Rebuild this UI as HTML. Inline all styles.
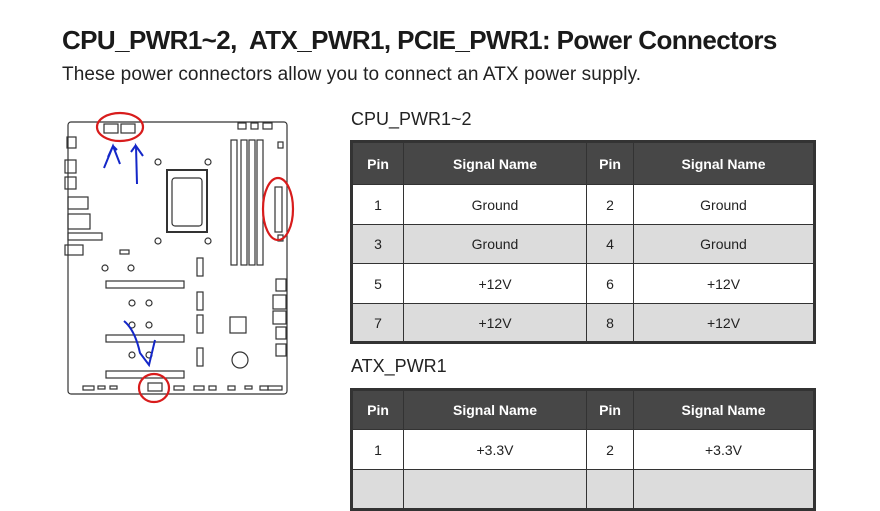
<!DOCTYPE html>
<html><head><meta charset="utf-8"><style>
body{margin:0;width:880px;height:481px;overflow:hidden;background:#fff;font-family:"Liberation Sans",sans-serif;position:relative;color:#222}
h1{position:absolute;left:62px;top:25px;margin:0;font-size:26px;font-weight:bold;letter-spacing:-0.6px;color:#1a1a1a;white-space:nowrap}
.sub{position:absolute;left:62px;top:64px;font-size:19px;color:#222;letter-spacing:0.1px}
.tt{position:absolute;left:351px;font-size:18px;color:#222}
table{position:absolute;left:350px;border-collapse:collapse;border:3px solid #333;font-size:14px}
td,th{border:1px solid #333;text-align:center;padding:0}
th{background:#474747;color:#fff;font-weight:bold;font-size:14px}
tr.g td{background:#dcdcdc}
</style></head><body>
<h1>CPU_PWR1~2,&nbsp; ATX_PWR1, PCIE_PWR1: Power Connectors</h1>
<div class="sub">These power connectors allow you to connect an ATX power supply.</div>
<div class="tt" style="top:109px">CPU_PWR1~2</div>
<table style="top:140px;width:466px">
<tr style="height:43px"><th style="width:50px">Pin</th><th style="width:182px">Signal Name</th><th style="width:46px">Pin</th><th>Signal Name</th></tr>
<tr style="height:40px"><td>1</td><td>Ground</td><td>2</td><td>Ground</td></tr>
<tr class="g" style="height:39px"><td>3</td><td>Ground</td><td>4</td><td>Ground</td></tr>
<tr style="height:40px"><td>5</td><td>+12V</td><td>6</td><td>+12V</td></tr>
<tr class="g" style="height:39px"><td>7</td><td>+12V</td><td>8</td><td>+12V</td></tr>
</table>
<div class="tt" style="top:356px">ATX_PWR1</div>
<table style="top:388px;width:466px">
<tr style="height:40px"><th style="width:50px">Pin</th><th style="width:182px">Signal Name</th><th style="width:46px">Pin</th><th>Signal Name</th></tr>
<tr style="height:40px"><td>1</td><td>+3.3V</td><td>2</td><td>+3.3V</td></tr>
<tr class="g" style="height:40px"><td>&nbsp;</td><td></td><td></td><td></td></tr>
</table>
<svg style="position:absolute;left:0;top:0" width="340" height="481" viewBox="0 0 340 481" fill="none" stroke="#333" stroke-width="1.2">
<rect x="68" y="122" width="219" height="272" rx="3"/>
<rect x="104" y="124" width="14" height="9"/><rect x="121" y="124" width="14" height="9"/>
<rect x="238" y="123" width="8" height="6"/><rect x="251" y="123" width="7" height="6"/><rect x="263" y="123" width="9" height="6"/>
<rect x="67" y="137" width="9" height="11"/><rect x="65" y="160" width="11" height="13"/><rect x="65" y="177" width="11" height="12"/><rect x="68" y="197" width="20" height="12"/><rect x="68" y="214" width="22" height="15"/><rect x="68" y="233" width="34" height="7"/><rect x="65" y="245" width="18" height="10"/>
<rect x="231" y="140" width="6" height="125"/><rect x="241" y="140" width="6" height="125"/><rect x="249" y="140" width="6" height="125"/><rect x="257" y="140" width="6" height="125"/>
<rect x="167" y="170" width="40" height="62" stroke-width="2"/><rect x="172" y="178" width="30" height="48" rx="3"/>
<circle cx="158" cy="162" r="3"/><circle cx="208" cy="162" r="3"/><circle cx="158" cy="241" r="3"/><circle cx="208" cy="241" r="3"/>
<rect x="275" y="187" width="7" height="45"/><rect x="278" y="142" width="5" height="6"/><rect x="278" y="235" width="5" height="6"/>
<rect x="120" y="250" width="9" height="4"/>
<circle cx="105" cy="268" r="3"/><circle cx="131" cy="268" r="3"/><circle cx="132" cy="303" r="3"/><circle cx="149" cy="303" r="3"/><circle cx="132" cy="325" r="3"/><circle cx="149" cy="325" r="3"/><circle cx="132" cy="355" r="3"/><circle cx="149" cy="355" r="3"/>
<rect x="106" y="281" width="78" height="7"/><rect x="106" y="335" width="78" height="7"/><rect x="106" y="371" width="78" height="7"/>
<rect x="197" y="258" width="6" height="18"/><rect x="197" y="292" width="6" height="18"/><rect x="197" y="315" width="6" height="18"/><rect x="197" y="348" width="6" height="18"/>
<rect x="230" y="317" width="16" height="16"/><circle cx="240" cy="360" r="8"/>
<rect x="276" y="279" width="10" height="12"/><rect x="273" y="295" width="13" height="14"/><rect x="273" y="311" width="13" height="13"/><rect x="276" y="327" width="10" height="12"/><rect x="276" y="344" width="10" height="12"/>
<rect x="83" y="386" width="11" height="4"/><rect x="98" y="386" width="7" height="3"/><rect x="110" y="386" width="7" height="3"/><rect x="148" y="383" width="14" height="8"/><rect x="174" y="386" width="10" height="4"/><rect x="194" y="386" width="10" height="4"/><rect x="209" y="386" width="7" height="4"/><rect x="228" y="386" width="7" height="4"/><rect x="245" y="386" width="7" height="3"/><rect x="260" y="386" width="8" height="4"/><rect x="268" y="386" width="14" height="4"/>
<g stroke="#d81c1c" stroke-width="2.2"><ellipse cx="120" cy="127" rx="23" ry="14"/><ellipse cx="278" cy="209" rx="15" ry="31"/><ellipse cx="154" cy="388" rx="15" ry="14"/></g>
<g stroke="#1427c8" stroke-width="2"><path d="M104 168 L113 146 L120 164 M108 157 L113 146 L117 150"/><path d="M137 184 L136 146 L143 156 M131 152 L136 145"/><path d="M124 321 Q135 330 140 353 L149 365 L155 340"/></g>
</svg>
</body></html>
